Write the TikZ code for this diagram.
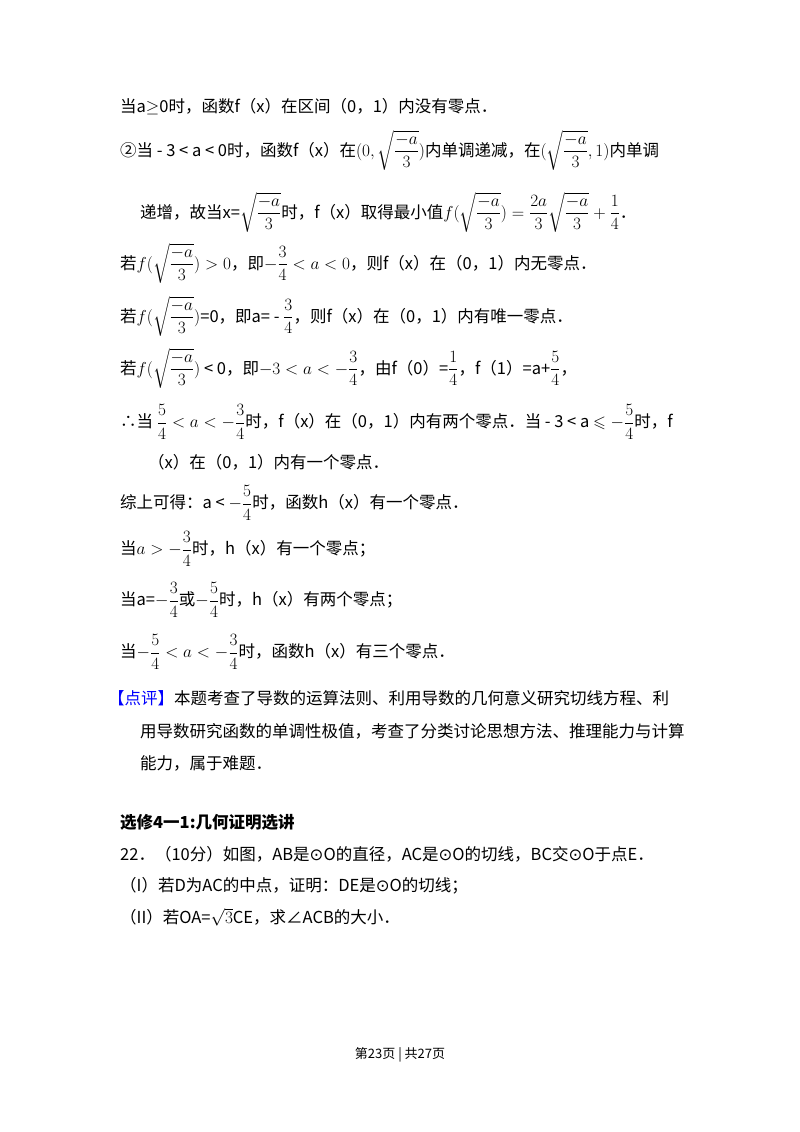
\documentclass[tikz,border=0pt]{standalone}
\usepackage{amsmath,amssymb}
\usepackage{fontspec}
\setmainfont{Noto Sans CJK SC}
\newfontfamily\djfont{DejaVu Sans}
\newcommand{\myrt}{\sqrt{\dfrac{-a}{3}}}
\begin{document}
\begin{tikzpicture}[x=1pt,y=-1pt]
\tikzset{ln/.style={anchor=west,inner sep=0pt,font=\fontsize{16.5}{19}\selectfont}}
\useasboundingbox (0,0) rectangle (800,1132);
\fill[white] (0,0) rectangle (800,1132);
\node[ln] (l1) at (120,107) {当a$\geq$0时，函数f（x）在区间（0，1）内没有零点．};
\node[ln] (l2) at (120,150) {②当 - 3 < a < 0时，函数f（x）在$(0,\myrt)$内单调递减，在$(\myrt,1)$内单调};
\node[ln] (l3) at (140,212) {递增，故当x=$\myrt$时，f（x）取得最小值$f(\myrt)=\dfrac{2a}{3}\myrt+\dfrac{1}{4}$．};
\node[ln] (l4) at (120,263) {若$f(\myrt)>0$，即$-\dfrac{3}{4}<a<0$，则f（x）在（0，1）内无零点．};
\node[ln] (l5) at (120,316) {若$f(\myrt)$=0，即a= - $\dfrac{3}{4}$，则f（x）在（0，1）内有唯一零点．};
\node[ln] (l6) at (120,368) {若$f(\myrt)$ < 0，即$-3<a<-\dfrac{3}{4}$，由f（0）=$\dfrac{1}{4}$，f（1）=a+$\dfrac{5}{4}$，};
\node[ln] (l7) at (120,422) {∴当 $\dfrac{5}{4}<a<-\dfrac{3}{4}$时，f（x）在（0，1）内有两个零点．当 - 3 < a $\leqslant-\dfrac{5}{4}$时，f};
\node[ln] (l8) at (148,462) {（x）在（0，1）内有一个零点．};
\node[ln] (l9) at (120,503) {综上可得：a < $-\dfrac{5}{4}$时，函数h（x）有一个零点．};
\node[ln] (l10) at (120,549) {当$a>-\dfrac{3}{4}$时，h（x）有一个零点；};
\node[ln] (l11) at (120,600) {当a=$-\dfrac{3}{4}$或$-\dfrac{5}{4}$时，h（x）有两个零点；};
\node[ln] (l12) at (120,652) {当$-\dfrac{5}{4}<a<-\dfrac{3}{4}$时，函数h（x）有三个零点．};
\node[ln] (l13) at (108,698) {\textcolor{blue}{【点评】}本题考查了导数的运算法则、利用导数的几何意义研究切线方程、利};
\node[ln] (l14) at (140,731) {用导数研究函数的单调性极值，考查了分类讨论思想方法、推理能力与计算};
\node[ln] (l15) at (140,763) {能力，属于难题．};
\node[ln,font=\fontsize{16.5}{19}\selectfont\bfseries] (l16) at (120,822) {选修4一1:几何证明选讲};
\node[ln] (l17) at (120,854) {22．（10分）如图，AB是{\djfont ⊙}O的直径，AC是{\djfont ⊙}O的切线，BC交{\djfont ⊙}O于点E．};
\node[ln] (l18) at (120,886) {（I）若D为AC的中点，证明：DE是{\djfont ⊙}O的切线；};
\node[ln] (l19) at (120,917) {（II）若OA=$\sqrt{3}$CE，求∠ACB的大小．};
\node[ln,anchor=center,font=\fontsize{13}{15}\selectfont] (ft) at (400,1055) {第23页 | 共27页};
\end{tikzpicture}
\end{document}
